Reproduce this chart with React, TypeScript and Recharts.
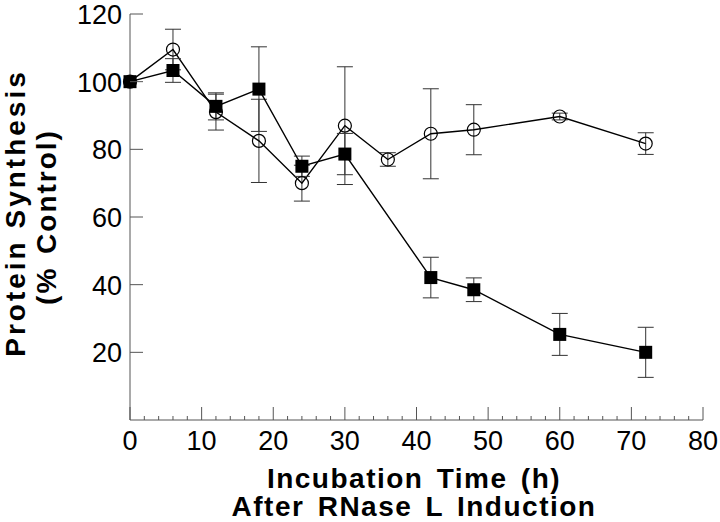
import { LineChart, Line, XAxis, YAxis, ErrorBar } from 'recharts'

// open circles
const circleTimes = [0, 6, 12, 18, 24, 30, 36, 42, 48, 60, 72]
const circleValues = [100, 109.5, 91, 82.5, 70, 87, 77, 84.6, 85.8, 89.7, 81.7]
const circleErrors = [0, 6, 5.3, 12.3, 5.3, 17.4, 2, 13.3, 7.4, 1, 3.2]

// filled squares
const squareTimes = [0, 6, 12, 18, 24, 30, 42, 48, 60, 72]
const squareValues = [100, 103.3, 92.7, 97.8, 75, 78.6, 42.1, 38.5, 25.3, 20]
const squareErrors = [0, 3.5, 4, 12.5, 3, 6.1, 6, 3.5, 6.2, 7.4]

const xMajorTicks = [0, 10, 20, 30, 40, 50, 60, 70, 80]
const yTicks = [20, 40, 60, 80, 100, 120]
// minor ticks every 2 h
const xAllTicks = Array.from({ length: 41 }, (_, i) => i * 2)

const xTitle = ['Incubation Time (h)', 'After RNase L Induction']
const yTitle = ['Protein Synthesis', '(% Control)']

const FONT = '"Liberation Sans", Arial, Helvetica, sans-serif'
const AXIS = '#555'

const circleRows = circleTimes.map((t, i) => ({ t, v: circleValues[i], e: circleErrors[i] }))
const squareRows = squareTimes.map((t, i) => ({ t, v: squareValues[i], e: squareErrors[i] }))

function XTick(props: any) {
  const { x, y, payload } = props
  const major = xMajorTicks.includes(payload.value)
  return (
    <g>
      <line x1={x} x2={x} y1={y} y2={y - (major ? 13 : 4)} stroke={AXIS} strokeWidth={1} />
      {major && (
        <text x={x} y={y + 30} textAnchor="middle" fontSize={27} fontFamily={FONT} fill="#000">
          {payload.value}
        </text>
      )}
    </g>
  )
}

function YTick(props: any) {
  const { x, y, payload } = props
  return (
    <g>
      <line x1={x} x2={x + 13} y1={y} y2={y} stroke={AXIS} strokeWidth={1} />
      <text x={x - 8} y={y + 10} textAnchor="end" fontSize={27} fontFamily={FONT} fill="#000">
        {payload.value}
      </text>
    </g>
  )
}

function XTitle() {
  return (
    <g fontFamily={FONT} fontWeight="bold" fontSize={28} fill="#000" textAnchor="middle">
      <text x={414} y={488} letterSpacing={1.5} wordSpacing={4}>{xTitle[0]}</text>
      <text x={414} y={516} letterSpacing={1.5} wordSpacing={4}>{xTitle[1]}</text>
    </g>
  )
}

function YTitle() {
  return (
    <g fontFamily={FONT} fontWeight="bold" fontSize={28} fill="#000" textAnchor="middle">
      <text transform="translate(25,213) rotate(-90)" letterSpacing={3}>{yTitle[0]}</text>
      <text transform="translate(56,217) rotate(-90)" letterSpacing={2} wordSpacing={3}>{yTitle[1]}</text>
    </g>
  )
}

function Square(props: any) {
  const { cx, cy, index } = props
  return <rect key={`s${index}`} x={cx - 6.5} y={cy - 6.5} width={13} height={13} fill="#000" />
}

function Circle(props: any) {
  const { cx, cy, index } = props
  return <circle key={`c${index}`} cx={cx} cy={cy} r={6.5} fill="none" stroke="#000" strokeWidth={1.2} />
}

export default function App() {
  return (
    <div style={{ position: 'absolute', left: 0, top: 0, background: '#fff' }}>
      <LineChart width={720} height={522} margin={{ top: 14, right: 17, bottom: 0, left: 0 }}>
        <XAxis
          type="number"
          dataKey="t"
          domain={[0, 80]}
          ticks={xAllTicks}
          interval={0}
          height={102}
          tickSize={0}
          tickMargin={0}
          tickLine={false}
          axisLine={{ stroke: AXIS, strokeWidth: 1 }}
          tick={<XTick />}
          label={{ content: <XTitle /> }}
        />
        <YAxis
          type="number"
          domain={[0, 120]}
          ticks={yTicks}
          interval={0}
          width={130}
          tickSize={0}
          tickMargin={0}
          tickLine={false}
          axisLine={{ stroke: AXIS, strokeWidth: 1 }}
          tick={<YTick />}
          label={{ content: <YTitle /> }}
        />
        <Line
          data={circleRows}
          dataKey="v"
          stroke="#000"
          strokeWidth={1.4}
          dot={Circle}
          activeDot={false}
          isAnimationActive={false}
        >
          <ErrorBar dataKey="e" direction="y" width={8} stroke="#333" strokeWidth={1} isAnimationActive={false} />
        </Line>
        <Line
          data={squareRows}
          dataKey="v"
          stroke="#000"
          strokeWidth={1.4}
          dot={Square}
          activeDot={false}
          isAnimationActive={false}
        >
          <ErrorBar dataKey="e" direction="y" width={8} stroke="#333" strokeWidth={1} isAnimationActive={false} />
        </Line>
      </LineChart>
    </div>
  )
}
